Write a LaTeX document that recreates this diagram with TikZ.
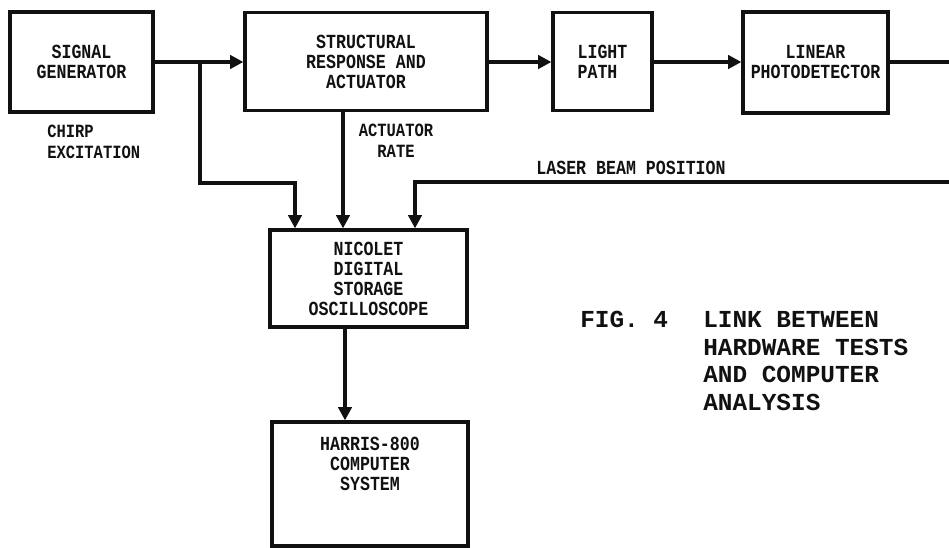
\documentclass[tikz,border=0pt]{standalone}
\usepackage{fontspec}
\usepackage{tikz}
\usetikzlibrary{arrows.meta,positioning,calc}
\newfontfamily\hwfont{Liberation Mono}[FakeStretch=0.83]
\newfontfamily\capfont{Liberation Mono}
\definecolor{cInk}{HTML}{111111}
\newdimen\pxu \pxu=0.75pt
\tikzset{
  hwbox/.style={draw=cInk,line width=2.4pt,align=center,inner sep=2pt,text=cInk,
      font=\hwfont\fontsize{15}{15}\selectfont\bfseries},
  hwtext/.style={inner sep=0pt,align=center,text=cInk,
      font=\hwfont\fontsize{15}{15}\selectfont\bfseries},
  hwlab/.style={hwtext,font=\hwfont\fontsize{14}{15.75}\selectfont\bfseries},
  hwwire/.style={draw=cInk,line width=3pt,-{Triangle[length=10pt,width=10pt]}},
  hwcap/.style={inner sep=0pt,align=left,text=cInk,
      font=\capfont\fontsize{18.3}{20.6}\selectfont\bfseries},
}

\begin{document}
\begin{tikzpicture}[x=0.75pt,y=-0.75pt]
  \useasboundingbox (0,0) rectangle (949,548);

  % top row
  \node[hwbox,minimum width=143\pxu,minimum height=100\pxu] (siggen) at (81.5,62)
    {SIGNAL\\GENERATOR};
  \node[hwbox,minimum width=242\pxu,minimum height=98\pxu] (structresp) at (366,61.5)
    {STRUCTURAL\\RESPONSE AND\\ACTUATOR};
  \node[hwbox,minimum width=99\pxu,minimum height=98\pxu,align=left] (lightpath) at (602.5,61.5)
    {LIGHT\\PATH};
  \node[hwbox,minimum width=145\pxu,minimum height=101\pxu] (photodet) at (815.5,62.5)
    {LINEAR\\PHOTODETECTOR};

  % lower column
  \node[hwbox,minimum width=197\pxu,minimum height=97\pxu] (scope) at (368.5,278.5)
    {NICOLET\\DIGITAL\\STORAGE\\OSCILLOSCOPE};
  \node[hwbox,minimum width=196\pxu,minimum height=124\pxu] (harris) at (370,484) {};
  \node[hwtext,below=16\pxu of harris.north] (harristxt) {HARRIS-800\\COMPUTER\\SYSTEM};

  \draw[hwwire] (siggen.east) -- (siggen.east -| structresp.west);
  \draw[hwwire] (structresp.east |- siggen.east) -- (lightpath.west |- siggen.east);
  \draw[hwwire] (lightpath.east |- siggen.east) -- (photodet.west |- siggen.east);

  \coordinate (split) at (200,62);
  \draw[hwwire] (split) -- ++(0,121) -| (295,0 |- scope.north);
  \draw[hwwire] (343,0 |- structresp.south) -- (343,0 |- scope.north);
  \draw[hwwire] (scope.south -| 345,0) -- (345,0 |- harris.north);

  \begin{scope}
    \clip (0,0) rectangle (949,548);
    \coordinate (rtop) at (975,62);
    \coordinate (rbot) at (975,182);
    \draw[hwwire] (photodet.east |- siggen.east) -- (rtop) -- (rbot) -| (415,0 |- scope.north);
  \end{scope}

  \node[hwlab,align=left,anchor=west] (chirplbl) at (47,141.5) {CHIRP\\EXCITATION};
  \node[hwlab] (ratelbl) at (396,141) {ACTUATOR\\RATE};
  \node[hwtext] (laserlbl) at (631,168) {LASER BEAM POSITION};

  \node[hwcap,anchor=base west] (fignum) at (580,328) {FIG. 4};
  \node[hwcap,anchor=north west] (figtitle) at (703,0 |- fignum.north)
    {LINK BETWEEN\\HARDWARE TESTS\\AND COMPUTER\\ANALYSIS};
\end{tikzpicture}
\end{document}
